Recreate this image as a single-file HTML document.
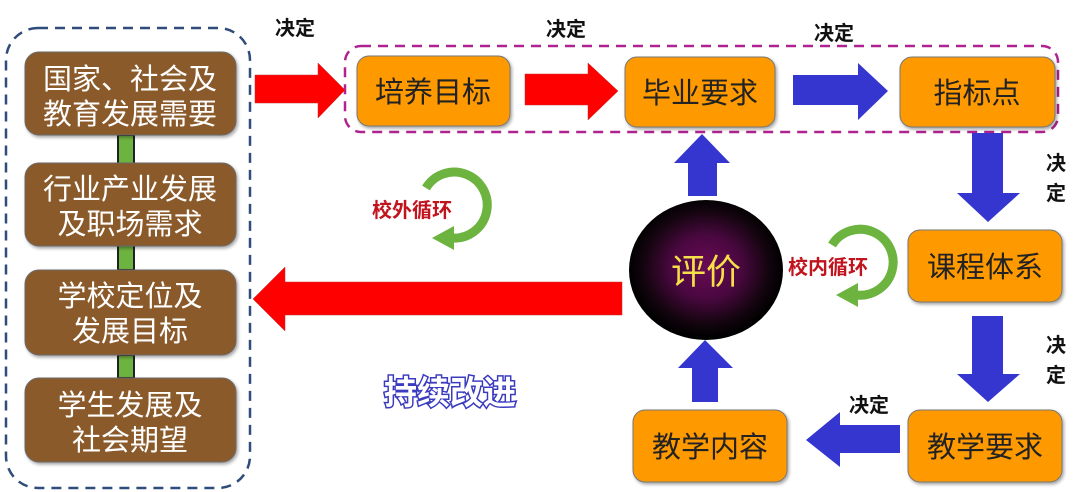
<!DOCTYPE html>
<html><head><meta charset="utf-8"><style>
html,body{margin:0;padding:0;background:#fff;}
svg{display:block;font-family:"Liberation Sans","Noto Sans CJK SC",sans-serif;}
</style></head><body>
<svg width="1085" height="492" viewBox="0 0 1085 492" xmlns="http://www.w3.org/2000/svg">
<defs>
<radialGradient id="g" cx="50%" cy="48%" r="50%">
<stop offset="0" stop-color="#6a0a55"/><stop offset="0.45" stop-color="#4a0840"/><stop offset="0.8" stop-color="#150510"/><stop offset="1" stop-color="#000"/>
</radialGradient>
<filter id="sh" x="-10%" y="-10%" width="130%" height="130%"><feDropShadow dx="1.5" dy="2" stdDeviation="1.5" flood-color="#000" flood-opacity="0.35"/></filter>
</defs>
<rect x="6" y="28" width="244" height="460" rx="32" fill="none" stroke="#2f4c7a" stroke-width="2.5" stroke-dasharray="10,7"/>
<g fill="#6db33f" stroke="#222" stroke-width="2">
<rect x="118" y="135" width="16" height="30"/><rect x="118" y="245" width="16" height="25"/><rect x="118" y="355" width="16" height="23"/>
</g>
<g fill="#8b5a2b" stroke="#6b6b6b" stroke-width="1" filter="url(#sh)">
<rect x="25" y="52" width="211" height="83" rx="14"/>
<rect x="25" y="163" width="211" height="83" rx="14"/>
<rect x="25" y="270" width="211" height="85" rx="14"/>
<rect x="25" y="378" width="211" height="84" rx="14"/>
</g>
<g fill="#fff" font-size="29" text-anchor="middle">
<text x="130" y="89">国家、社会及</text><text x="130" y="124">教育发展需要</text>
<text x="130" y="199">行业产业发展</text><text x="130" y="234">及职场需求</text>
<text x="130" y="306">学校定位及</text><text x="130" y="341">发展目标</text>
<text x="130" y="415">学生发展及</text><text x="130" y="450">社会期望</text>
</g>
<rect x="345" y="46" width="713" height="86" rx="16" fill="none" stroke="#b0228f" stroke-width="2.5" stroke-dasharray="10,7"/>
<g fill="#ff9900" stroke="#777" stroke-width="1" filter="url(#sh)">
<rect x="357" y="56" width="153" height="70" rx="12"/>
<rect x="625" y="57" width="150" height="70" rx="12"/>
<rect x="900" y="57" width="155" height="70" rx="12"/>
<rect x="908" y="230" width="154" height="72" rx="12"/>
<rect x="908" y="410" width="154" height="72" rx="12"/>
<rect x="633" y="410" width="154" height="72" rx="12"/>
</g>
<g fill="#222" font-size="29" text-anchor="middle">
<text x="433" y="102">培养目标</text><text x="700" y="103">毕业要求</text><text x="977" y="103">指标点</text>
<text x="985" y="277">课程体系</text><text x="985" y="457">教学要求</text><text x="710" y="457">教学内容</text>
</g>
<g fill="#ff0000" stroke="#c03030" stroke-width="0.5">
<polygon points="255,75 318,75 318,63 345,90 318,118 318,103 255,103"/>
<polygon points="525,74 588,74 588,63 618,91 588,120 588,105 525,105"/>
<polygon points="622,282 285,282 285,267 253,299 285,331 285,315 622,315"/>
</g>
<g fill="#3535d0">
<polygon points="793,75 858,75 858,63 888,91 858,120 858,105 793,105"/>
<polygon points="972,133 1003,133 1003,193 1020,193 988,222 957,193 972,193"/>
<polygon points="972,316 1003,316 1003,374 1020,374 988,402 957,374 972,374"/>
<polygon points="900,425 840,425 840,412 806,440 840,467 840,453 900,453"/>
<polygon points="688,196 717,196 717,163 730,163 702,134 674,163 688,163"/>
<polygon points="692,402 718,402 718,368 733,368 705,340 678,368 692,368"/>
</g>
<ellipse cx="706" cy="270" rx="77" ry="70" fill="url(#g)"/>
<text x="706" y="284" font-size="35" fill="#f5e04a" text-anchor="middle">评价</text>
<g fill="#111" font-size="20" font-weight="bold" text-anchor="middle">
<text x="295" y="35">决定</text><text x="566" y="36">决定</text><text x="834" y="40">决定</text>
<text x="1056" y="170">决</text><text x="1056" y="200">定</text>
<text x="1056" y="352">决</text><text x="1056" y="382">定</text>
<text x="869" y="412">决定</text>
</g>
<g fill="none" stroke="#6db33f" stroke-width="9">
<path d="M426,188 A33,33 0 1 1 452,238"/>
<path d="M832,245 A33,33 0 1 1 856,295"/>
</g>
<polygon points="454,226 432,238 454,250" fill="#6db33f"/>
<polygon points="858,283 836,295 858,307" fill="#6db33f"/>
<text x="412" y="217" font-size="20" font-weight="bold" fill="#c0141e" text-anchor="middle">校外循环</text>
<text x="828" y="274" font-size="20" font-weight="bold" fill="#c0141e" text-anchor="middle">校内循环</text>
<text x="450" y="404" font-size="33" font-weight="bold" fill="#fff" stroke="#3b3bc0" stroke-width="3" paint-order="stroke" text-anchor="middle">持续改进</text>
</svg>
</body></html>
